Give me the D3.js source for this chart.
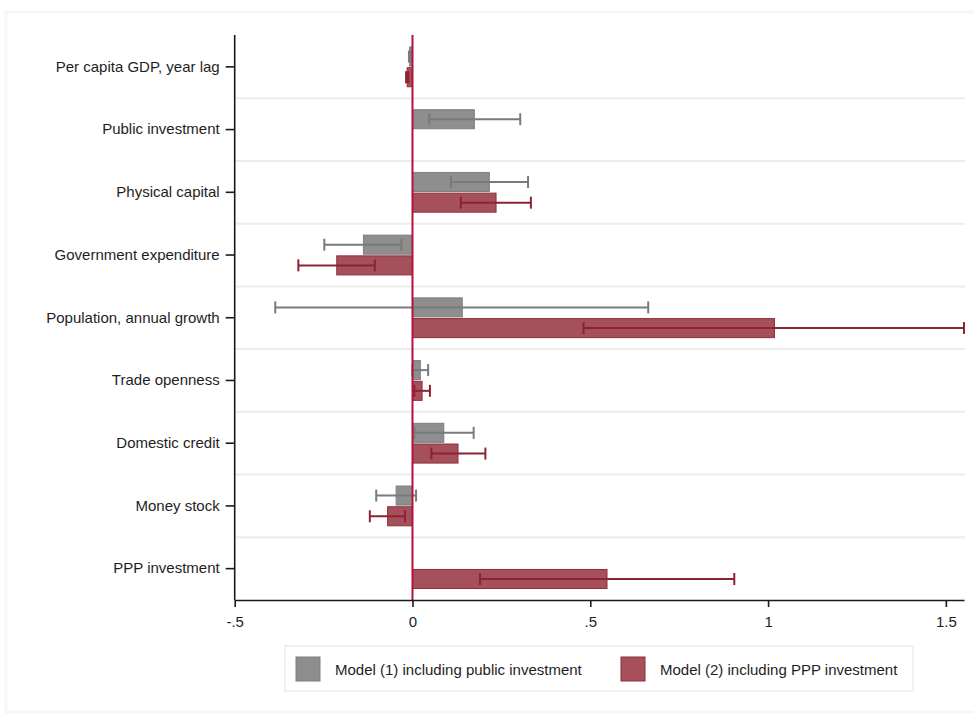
<!DOCTYPE html>
<html>
<head>
<meta charset="utf-8">
<script src="https://cdn.jsdelivr.net/npm/d3@7"></script>
<style>
  html, body { margin: 0; padding: 0; background: #ffffff; }
  svg { display: block; font-family: "Liberation Sans", Arial, sans-serif; }
</style>
</head>
<body>
<svg id="chart" width="974" height="715"></svg>
<script>
const categories = [
  "Per capita GDP, year lag",
  "Public investment",
  "Physical capital",
  "Government expenditure",
  "Population, annual growth",
  "Trade openness",
  "Domestic credit",
  "Money stock",
  "PPP investment"
];
const seriesNames = ["Model (1) including public investment", "Model (2) including PPP investment"];
const model1   = [-0.008, 0.174, 0.216, -0.138, 0.140, 0.022, 0.088, -0.046, null];
const model1Lo = [-0.010, 0.047, 0.108, -0.248, -0.386, 0.000, 0.005, -0.102, null];
const model1Hi = [-0.006, 0.303, 0.325, -0.031, 0.663, 0.044, 0.172, 0.010, null];
const model2   = [-0.015, null, 0.235, -0.213, 1.018, 0.027, 0.128, -0.070, 0.547];
const model2Lo = [-0.018, null, 0.136, -0.321, 0.481, 0.005, 0.053, -0.120, 0.190];
const model2Hi = [-0.012, null, 0.333, -0.106, 1.551, 0.049, 0.205, -0.021, 0.905];
const xTicks = [-0.5, 0, 0.5, 1, 1.5];
const xTickLabels = ["-.5", "0", ".5", "1", "1.5"];

const fills = ["#8e8e8e", "#a5505a"];
const strokes = ["#7e7e7e", "#8e2f3b"];
const errColors = ["#7a7a7a", "#8c2334"];

const svg = d3.select("#chart");

// faint outer frame
svg.append("rect").attr("x", 6).attr("y", 12).attr("width", 980).attr("height", 700)
  .attr("fill", "none").attr("stroke", "#f7f7f7").attr("stroke-width", 3);

const x = d3.scaleLinear().domain([-0.5, 1.551]).range([234.7, 964]);
const y = d3.scaleBand().domain(categories).range([35.5, 600]).paddingInner(0).paddingOuter(0);
const bw = y.bandwidth();
const inner = d3.scaleBand().domain([0, 1]).range([bw * 0.183, bw * 0.817]).paddingInner(0.08);

// grid lines between categories
const gridG = svg.append("g");
categories.slice(1).forEach(c => {
  gridG.append("line")
    .attr("x1", x(-0.5) + 1).attr("x2", x(1.551) + 1)
    .attr("y1", y(c)).attr("y2", y(c))
    .attr("stroke", "#ececec").attr("stroke-width", 2);
});

const series = [
  { v: model1, lo: model1Lo, hi: model1Hi },
  { v: model2, lo: model2Lo, hi: model2Hi }
];

series.forEach((s, si) => {
  const g = svg.append("g");
  categories.forEach((c, i) => {
    if (s.v[i] === null) return;
    const y0 = y(c) + inner(si);
    const h = inner.bandwidth();
    g.append("rect")
      .attr("x", Math.min(x(0), x(s.v[i])))
      .attr("width", Math.abs(x(s.v[i]) - x(0)))
      .attr("y", y0).attr("height", h)
      .attr("fill", fills[si]).attr("stroke", strokes[si]).attr("stroke-width", 1);
    const cy = y0 + h / 2;
    g.append("line")
      .attr("x1", x(s.lo[i])).attr("x2", x(s.hi[i]))
      .attr("y1", cy).attr("y2", cy)
      .attr("stroke", errColors[si]).attr("stroke-width", 2);
    [s.lo[i], s.hi[i]].forEach(val => {
      g.append("line")
        .attr("x1", x(val)).attr("x2", x(val))
        .attr("y1", cy - 6).attr("y2", cy + 6)
        .attr("stroke", errColors[si]).attr("stroke-width", 2);
    });
  });
});

// zero reference line
svg.append("line")
  .attr("x1", x(0)).attr("x2", x(0))
  .attr("y1", 35).attr("y2", 600)
  .attr("stroke", "#b3123f").attr("stroke-width", 2);

// left axis
const yAxis = d3.axisLeft(y).tickSize(9).tickPadding(6).tickSizeOuter(0);
const gy = svg.append("g").attr("transform", `translate(${x(-0.5)},0)`).call(yAxis);
gy.select(".domain").attr("stroke", "#1a1a1a").attr("stroke-width", 1.6)
  .attr("d", `M0,35V600`);
gy.selectAll(".tick line").attr("stroke", "#1a1a1a").attr("stroke-width", 1.6);
gy.selectAll(".tick text").attr("font-size", 15).attr("fill", "#1e1e1e")
  .attr("font-family", "Liberation Sans, Arial, sans-serif");

// bottom axis
const xAxis = d3.axisBottom(x).tickValues(xTicks)
  .tickFormat((d, i) => xTickLabels[i]).tickSize(7).tickPadding(9).tickSizeOuter(0);
const gx = svg.append("g").attr("transform", "translate(0,600)").call(xAxis);
gx.select(".domain").attr("stroke", "#1a1a1a").attr("stroke-width", 1.6);
gx.selectAll(".tick line").attr("stroke", "#1a1a1a").attr("stroke-width", 1.6);
gx.selectAll(".tick text").attr("font-size", 15).attr("fill", "#1e1e1e")
  .attr("font-family", "Liberation Sans, Arial, sans-serif");

// legend
const lg = svg.append("g");
lg.append("rect").attr("x", 285).attr("y", 646).attr("width", 628).attr("height", 45)
  .attr("fill", "#ffffff").attr("stroke", "#ededed").attr("stroke-width", 1.5);
const legendX = [296, 621];
seriesNames.forEach((n, i) => {
  lg.append("rect").attr("x", legendX[i]).attr("y", 657).attr("width", 24).attr("height", 24)
    .attr("fill", fills[i]).attr("stroke", strokes[i]).attr("stroke-width", 1);
  lg.append("text").attr("x", legendX[i] + 39).attr("y", 675)
    .attr("font-size", 15).attr("fill", "#1e1e1e").text(n);
});
</script>
</body>
</html>
